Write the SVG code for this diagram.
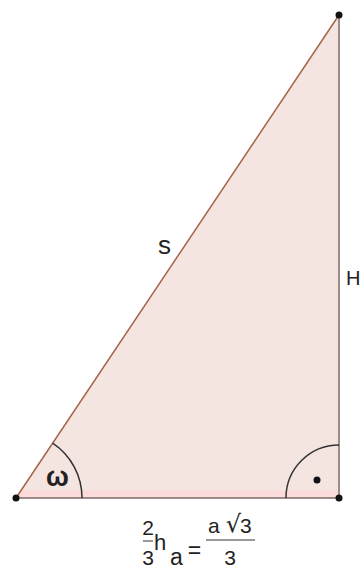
<svg xmlns="http://www.w3.org/2000/svg" width="362" height="569" viewBox="0 0 362 569">
<style>
.t{font-family:"Liberation Sans",Arial,sans-serif;fill:#222}
.arc{fill:none;stroke:#333;stroke-width:1.5}
.pt{fill:#111}
.bar{stroke:#333;stroke-width:1}
</style>
<rect width="362" height="569" fill="#ffffff"/>
<g id="triangle">
<polygon points="16,498 339,498 339,15" fill="#f5e5e0" stroke="none"/>
<polygon points="21.4,490 339,490 339,498 16,498" fill="#fbdcda" stroke="none"/>
<line x1="16" y1="498" x2="339" y2="15" stroke="#a5644a" stroke-width="1.5"/>
<line x1="339" y1="15" x2="339" y2="498" stroke="#7d6a64" stroke-width="1.5"/>
<line x1="16" y1="498" x2="339" y2="498" stroke="#7d6a64" stroke-width="1.5"/>
</g>
<g id="angle-omega">
<path class="arc" d="M82,498 A66,66 0 0 0 52.7,443.1"/>
<text class="t" x="46" y="486" font-size="27" font-weight="bold">ω</text>
</g>
<g id="angle-right">
<path class="arc" d="M286,498 A53,53 0 0 1 339,445"/>
<circle class="pt" cx="317" cy="480" r="3.5"/>
</g>
<g id="points">
<circle class="pt" cx="16" cy="498" r="3.5"/>
<circle class="pt" cx="339" cy="498" r="3.5"/>
<circle class="pt" cx="339" cy="15" r="3.5"/>
</g>
<g id="label-s"><text class="t" x="158" y="254" font-size="26">s</text></g>
<g id="label-H"><text class="t" x="346" y="285" font-size="20">H</text></g>
<g id="formula">
<text class="t" x="148" y="535" font-size="21" text-anchor="middle">2</text>
<line class="bar" x1="143" y1="541" x2="153" y2="541"/>
<text class="t" x="148" y="565" font-size="21" text-anchor="middle">3</text>
<text class="t" x="154" y="550" font-size="22">h</text>
<text class="t" x="170" y="565" font-size="23">a</text>
<text class="t" x="194.5" y="558" font-size="23" text-anchor="middle">=</text>
<text class="t" x="208" y="533" font-size="21">a</text>
<text class="t" x="241" y="532" font-size="24" text-anchor="end" style="font-family:'DejaVu Sans',sans-serif">√</text>
<text class="t" x="240" y="533" font-size="21">3</text>
<line class="bar" x1="206" y1="540" x2="255" y2="540"/>
<text class="t" x="230" y="565" font-size="21" text-anchor="middle">3</text>
</g>
</svg>
